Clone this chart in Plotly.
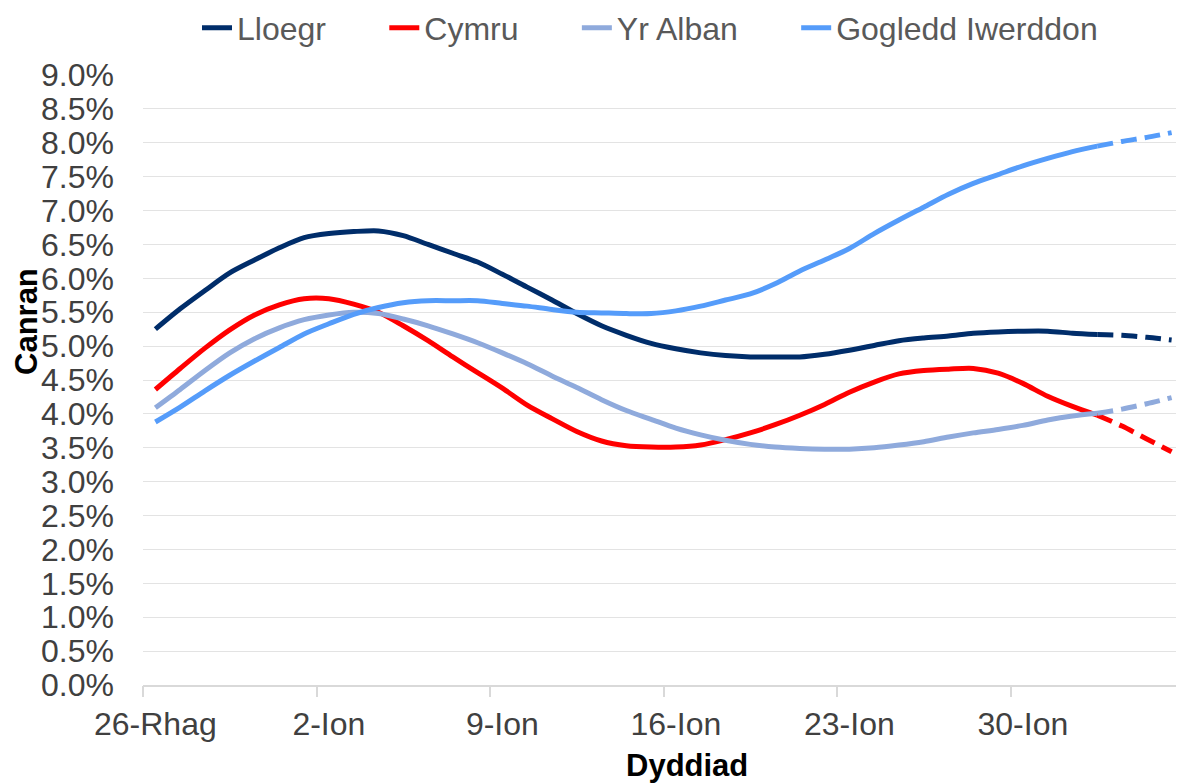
import pandas as pd
import plotly.graph_objects as go

# ---- data (percent) ----
dates = pd.date_range("2021-12-26", "2022-02-05", freq="D")
series_names = ["Lloegr", "Cymru", "Yr Alban", "Gogledd Iwerddon"]
lloegr = [5.25, 5.55, 5.82, 6.08, 6.27, 6.45, 6.60, 6.66, 6.69, 6.70, 6.63, 6.50, 6.37, 6.24,
          6.06, 5.87, 5.68, 5.48, 5.30, 5.16, 5.04, 4.96, 4.90, 4.86, 4.84, 4.84, 4.84, 4.88,
          4.94, 5.01, 5.08, 5.12, 5.15, 5.19, 5.21, 5.22, 5.22, 5.19, 5.17, 5.16, 5.13, 5.09]
cymru = [4.36, 4.67, 4.97, 5.24, 5.46, 5.61, 5.70, 5.70, 5.62, 5.50, 5.30, 5.08, 4.84, 4.61,
         4.38, 4.13, 3.93, 3.74, 3.60, 3.53, 3.51, 3.51, 3.54, 3.62, 3.72, 3.84, 3.98, 4.14,
         4.32, 4.47, 4.59, 4.64, 4.66, 4.67, 4.60, 4.45, 4.26, 4.11, 3.98, 3.82, 3.63, 3.44]
yr_alban = [4.09, 4.36, 4.64, 4.90, 5.11, 5.27, 5.39, 5.46, 5.50, 5.48, 5.40, 5.30, 5.18, 5.05,
            4.90, 4.74, 4.56, 4.39, 4.21, 4.05, 3.92, 3.79, 3.69, 3.61, 3.55, 3.51, 3.49, 3.48,
            3.48, 3.50, 3.54, 3.59, 3.66, 3.72, 3.77, 3.83, 3.91, 3.97, 4.01, 4.07, 4.15, 4.24]
gogledd = [3.88, 4.10, 4.34, 4.57, 4.78, 4.98, 5.18, 5.33, 5.47, 5.57, 5.64, 5.67, 5.67, 5.67,
           5.63, 5.59, 5.54, 5.50, 5.49, 5.48, 5.48, 5.52, 5.59, 5.68, 5.77, 5.92, 6.11, 6.27,
           6.44, 6.66, 6.86, 7.05, 7.24, 7.40, 7.53, 7.66, 7.77, 7.87, 7.95, 8.02, 8.08, 8.15]
solid_end = 38  # last index of the solid part; dashed part runs from here to the end

tick_dates = ["2021-12-26", "2022-01-02", "2022-01-09", "2022-01-16", "2022-01-23", "2022-01-30"]
tick_text = ["26-Rhag", "2-Ion", "9-Ion", "16-Ion", "23-Ion", "30-Ion"]
boundary_ticks = ["2021-12-25 12:00", "2022-01-01 12:00", "2022-01-08 12:00",
                  "2022-01-15 12:00", "2022-01-22 12:00", "2022-01-29 12:00"]
x_range = ["2021-12-25 12:00", "2022-02-05 12:00"]
y_tickvals = [0.0, 0.5, 1.0, 1.5, 2.0, 2.5, 3.0, 3.5, 4.0, 4.5,
              5.0, 5.5, 6.0, 6.5, 7.0, 7.5, 8.0, 8.5, 9.0]
y_ticktext = ["0.0%", "0.5%", "1.0%", "1.5%", "2.0%", "2.5%", "3.0%", "3.5%", "4.0%", "4.5%",
              "5.0%", "5.5%", "6.0%", "6.5%", "7.0%", "7.5%", "8.0%", "8.5%", "9.0%"]

colors = ["#002D6A", "#FF0000", "#8FAADC", "#559CFA"]
values = [lloegr, cymru, yr_alban, gogledd]

FONT = "Liberation Sans, Arial, sans-serif"
PAD = "\u00a0" * 6
fig = go.Figure()
for name, vals, col in zip(series_names, values, colors):
    fig.add_trace(go.Scatter(
        x=dates[:solid_end + 1], y=vals[:solid_end + 1], name=name + PAD, mode="lines",
        line=dict(color=col, width=5, shape="spline", smoothing=0.8),
        hoverinfo="skip"))
for name, vals, col in zip(series_names, values, colors):
    fig.add_trace(go.Scatter(
        x=dates[solid_end:], y=vals[solid_end:], name=name, mode="lines", showlegend=False,
        line=dict(color=col, width=5, shape="spline", smoothing=0.8, dash="16px,8px"),
        hoverinfo="skip"))
# helper trace so the tick-mark axis is drawn
fig.add_trace(go.Scatter(x=[], y=[], xaxis="x2", showlegend=False, hoverinfo="skip"))

# page body has an 8px margin: figure drawn from (8, 8); plot area 143..1184 x 75..685
fig.update_layout(
    width=1176, height=776,
    margin=dict(l=135, r=0, t=67, b=99, autoexpand=False),
    paper_bgcolor="white", plot_bgcolor="white",
    font=dict(family=FONT, size=32, color="#404040"),
    showlegend=True,
    legend=dict(orientation="h", x=54 / 1041, xanchor="left", y=1 + (75 - 28) / 610,
                yanchor="middle",
                font=dict(family=FONT, size=32, color="#595959"),
                tracegroupgap=0, bgcolor="rgba(0,0,0,0)"),
    xaxis=dict(type="date", range=x_range, tickvals=tick_dates, ticktext=tick_text,
               ticks="", showgrid=False, zeroline=False, automargin=False,
               showline=True, linecolor="#D9D9D9", linewidth=2,
               tickfont=dict(family=FONT, size=32, color="#404040"),
               ticklabelstandoff=10),
    xaxis2=dict(type="date", range=x_range, overlaying="x", anchor="y", side="bottom",
                tickvals=boundary_ticks, ticks="outside", ticklen=11, tickwidth=1.5,
                tickcolor="#D9D9D9", showticklabels=False, showgrid=False,
                zeroline=False, showline=False),
    yaxis=dict(range=[0, 9], tickvals=y_tickvals, ticktext=y_ticktext,
               ticks="", showgrid=True, gridcolor="#E3E3E3", gridwidth=1,
               zeroline=False, showline=False, automargin=False,
               tickfont=dict(family=FONT, size=32, color="#404040"),
               ticklabelstandoff=28),
    annotations=[
        dict(text="<b>Canran</b>", textangle=-90, xref="paper", yref="paper",
             x=(26 - 143) / 1041, y=(685 - 322) / 610, xanchor="center", yanchor="middle",
             showarrow=False, font=dict(family=FONT, size=31, color="#000000")),
        dict(text="<b>Dyddiad</b>", xref="paper", yref="paper",
             x=(687 - 143) / 1041, y=-(765 - 685) / 610, xanchor="center", yanchor="middle",
             showarrow=False, font=dict(family=FONT, size=31, color="#000000")),
    ],
)

fig.write_html("out.html")
